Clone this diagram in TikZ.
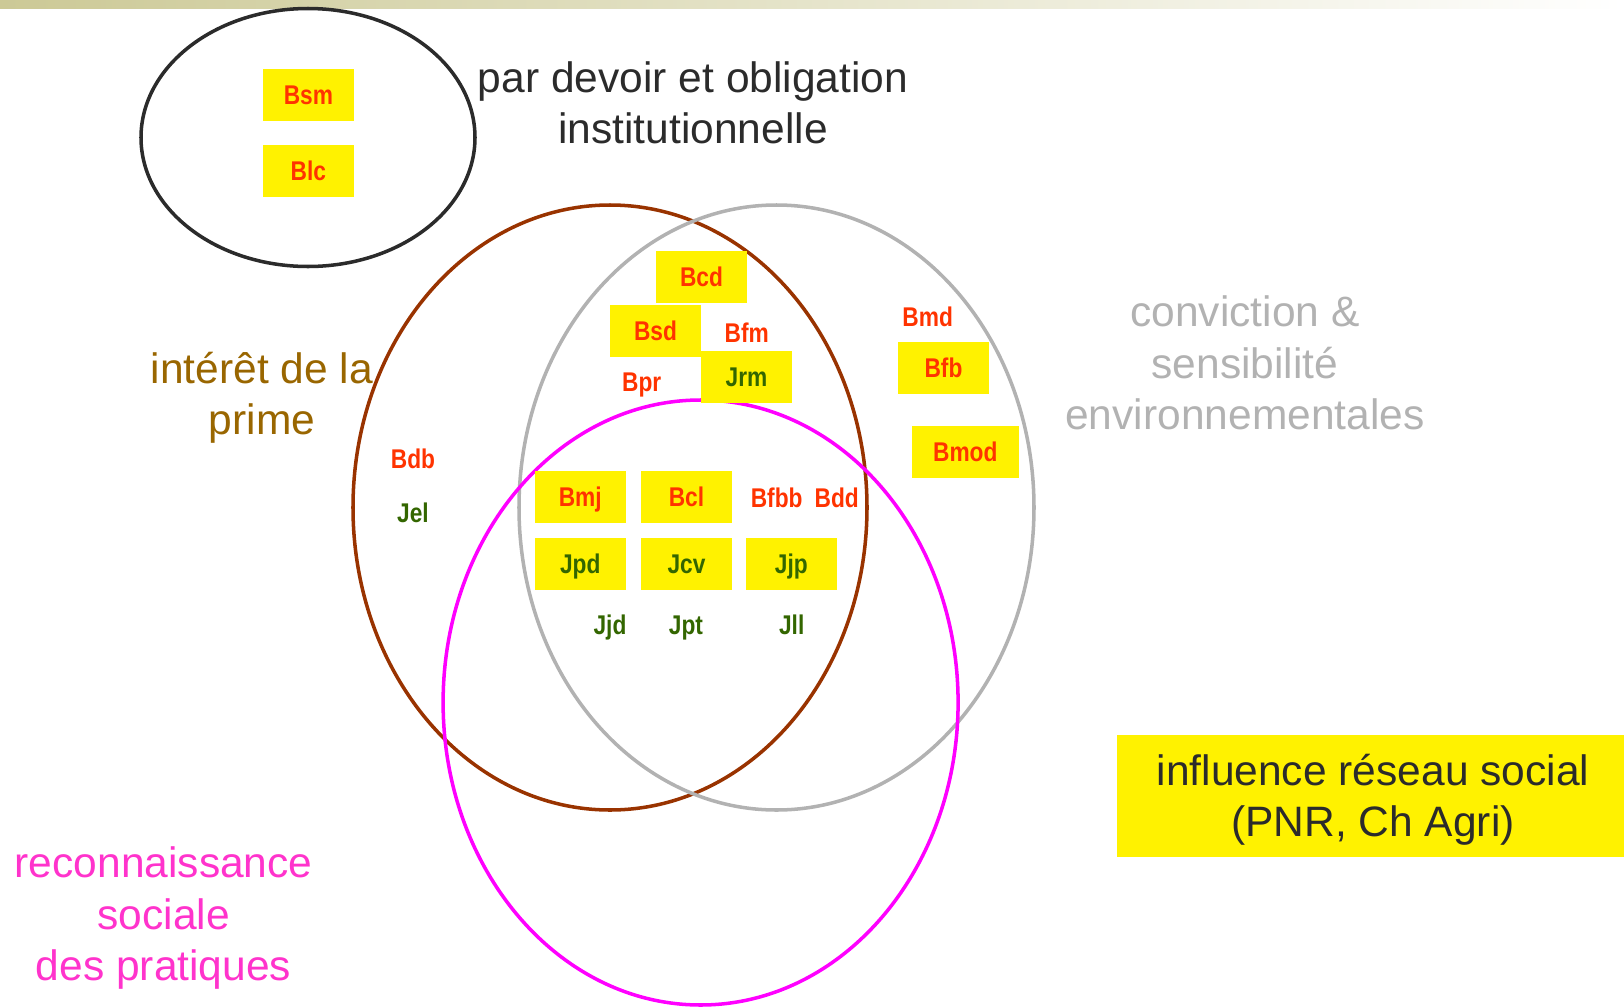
\documentclass[tikz,border=0pt]{standalone}
\usepackage{fontspec}
\setmainfont{Liberation Sans}
\newfontfamily\tagfont[FakeStretch=0.84]{Liberation Sans}
\definecolor{barolive}{HTML}{CCC996}
\definecolor{inkdark}{HTML}{2B2B2B}
\definecolor{tagred}{HTML}{FF3300}
\definecolor{taggreen}{HTML}{336600}
\definecolor{ringbrown}{HTML}{993300}
\definecolor{ringgray}{HTML}{B2B2B2}
\definecolor{ringmagenta}{HTML}{FF00FF}
\definecolor{primebrown}{HTML}{996600}
\definecolor{socialpink}{HTML}{FF33CC}

\begin{document}
\begin{tikzpicture}[
    tag/.style={font=\tagfont\bfseries\fontsize{7.7}{8}\selectfont, inner sep=0pt,
      text height=1.94mm, text depth=0pt},
    tagbox/.style={tag, fill=yellow, minimum width=9.1mm, minimum height=5.2mm},
    big/.style={font=\fontsize{12.1}{14.6}\selectfont, align=center, inner sep=0pt},
    ring/.style={line width=1pt}
  ]
  \useasboundingbox (0,0) rectangle (16.24,-10.07);
  \shade [left color=barolive, right color=white] (0,0) rectangle (16.24,-0.08);

  % the four sets
  \draw [ring, inkdark] (3.08,-1.375) ellipse [x radius=1.67, y radius=1.29];
  \draw [ring, ringbrown] (6.10,-5.075) ellipse [x radius=2.57, y radius=3.025];
  \draw [ring, ringgray] (7.765,-5.075) ellipse [x radius=2.575, y radius=3.025];
  \draw [ring, ringmagenta] (7.006,-7.025) ellipse [x radius=2.575, y radius=3.025];

  % set names
  \node (devoir) [big, text=inkdark] at (6.93,-1.03) {par devoir et obligation\\institutionnelle};
  \node (prime) [big, text=primebrown] at (2.62,-3.98) {intérêt de la\\prime};
  \node (conviction) [big, text=ringgray] at (12.45,-3.63) {conviction \&\\sensibilité\\environnementales};
  \node (reconnaissance) [big, text=socialpink] at (1.636,-9.18) {reconnaissance\\sociale\\des pratiques};
  \fill [yellow] (11.17,-7.35) rectangle (16.24,-8.57);
  \node (reseau) [big, text=inkdark] at (13.73,-8.0) {influence réseau social\\(PNR, Ch Agri)};

  % farms
  \node (bsm) [tagbox, text=tagred] at (3.084,-0.95) {Bsm};
  \node (blc) [tagbox, text=tagred] at (3.084,-1.71) {Blc};
  \node (bcd) [tagbox, text=tagred] at (7.015,-2.77) {Bcd};
  \node (bsd) [tagbox, text=tagred] at (6.555,-3.31) {Bsd};
  \node (bfm) [tag, text=tagred] at (7.467,-3.327) {Bfm};
  \node (jrm) [tagbox, text=taggreen] at (7.465,-3.765) {Jrm};
  \node (bpr) [tag, text=tagred] at (6.417,-3.817) {Bpr};
  \node (bmd) [tag, text=tagred] at (9.277,-3.167) {Bmd};
  \node (bfb) [tagbox, text=tagred] at (9.435,-3.675) {Bfb};
  \node (bmod) [tagbox, text=tagred, minimum width=10.7mm] at (9.653,-4.515) {Bmod};
  \node (bdb) [tag, text=tagred] at (4.13,-4.59) {Bdb};
  \node (jel) [tag, text=taggreen] at (4.13,-5.13) {Jel};
  \node (bmj) [tagbox, text=tagred] at (5.803,-4.97) {Bmj};
  \node (bcl) [tagbox, text=tagred] at (6.865,-4.97) {Bcl};
  \node (bfbb) [tag, text=tagred] at (7.767,-4.98) {Bfbb};
  \node (bdd) [tag, text=tagred] at (8.367,-4.98) {Bdd};
  \node (jpd) [tagbox, text=taggreen] at (5.803,-5.635) {Jpd};
  \node (jcv) [tagbox, text=taggreen] at (6.865,-5.635) {Jcv};
  \node (jjp) [tagbox, text=taggreen] at (7.913,-5.635) {Jjp};
  \node (jjd) [tag, text=taggreen] at (6.10,-6.25) {Jjd};
  \node (jpt) [tag, text=taggreen] at (6.86,-6.25) {Jpt};
  \node (jll) [tag, text=taggreen] at (7.917,-6.25) {Jll};
\end{tikzpicture}
\end{document}
